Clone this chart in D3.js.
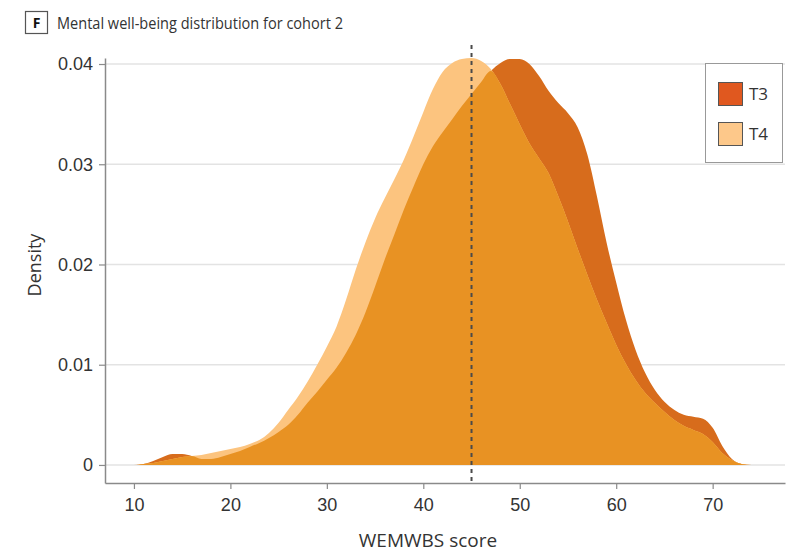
<!DOCTYPE html>
<html>
<head>
<meta charset="utf-8">
<script src="https://cdn.jsdelivr.net/npm/d3@7"></script>
<style>
    body { margin: 0; background: #fff; }
    svg { display: block; font-family: "Open Sans", "Noto Sans", sans-serif; }
</style>
</head>
<body>
<div id="chart"></div>
<script>
// data (density curves, WEMWBS score)
const scores = [8, 9, 10, 11, 12, 13, 14, 15, 16, 17, 18, 19, 20, 21, 22, 23, 24, 25, 26, 27, 28, 29,
    30, 31, 32, 33, 34, 35, 36, 37, 38, 39, 40, 41, 42, 43, 44, 45, 46, 47, 48, 49, 50, 51, 52,
    53, 54, 55, 56, 57, 58, 59, 60, 61, 62, 63, 64, 65, 66, 67, 68, 69, 70, 71, 72, 73, 74, 75, 76];
const t3 = [0, 0, 0, 0.0001, 0.0004, 0.0008, 0.0011, 0.0011, 0.0009, 0.0006, 0.0006, 0.0008, 0.0011,
    0.0014, 0.0018, 0.0022, 0.0027, 0.0033, 0.0040, 0.0050, 0.0062, 0.0073, 0.0085, 0.0097, 0.0112,
    0.0130, 0.0152, 0.0178, 0.0205, 0.0230, 0.0255, 0.0278, 0.0300, 0.0318, 0.0332, 0.0345, 0.0358,
    0.0370, 0.0382, 0.0393, 0.0401, 0.0405, 0.0405, 0.0400, 0.0388, 0.0373, 0.0361, 0.0351, 0.0337,
    0.0310, 0.0268, 0.0222, 0.0182, 0.0145, 0.0115, 0.0092, 0.0075, 0.0063, 0.0055, 0.0050, 0.0048,
    0.0046, 0.0037, 0.0019, 0.0006, 0.0001, 0, 0, 0];
const t4 = [0, 0, 0, 0.0001, 0.0002, 0.0004, 0.0006, 0.0008, 0.0009, 0.0010, 0.0012, 0.0014, 0.0016,
    0.0018, 0.0021, 0.0025, 0.0032, 0.0042, 0.0055, 0.0068, 0.0083, 0.0100, 0.0118, 0.0138, 0.0165,
    0.0195, 0.0222, 0.0246, 0.0266, 0.0285, 0.0305, 0.0328, 0.0352, 0.0375, 0.0392, 0.0401, 0.0405,
    0.0406, 0.0403, 0.0395, 0.0380, 0.0360, 0.0340, 0.0321, 0.0306, 0.0291, 0.0268, 0.0243, 0.0216,
    0.0190, 0.0165, 0.0142, 0.0120, 0.0101, 0.0085, 0.0072, 0.0062, 0.0053, 0.0045, 0.0039, 0.0035,
    0.0031, 0.0023, 0.0012, 0.0005, 0.0001, 0, 0, 0];
const meanLine = 45;
const xTicks = [10, 20, 30, 40, 50, 60, 70];
const yTicks = [0, 0.01, 0.02, 0.03, 0.04];
const legendNames = ["T3", "T4"];

const width = 796, height = 552;
const svg = d3.select("#chart").append("svg")
    .attr("width", width)
    .attr("height", height);

// scales
const x = d3.scaleLinear().domain([7, 77.5]).range([105, 785]);
const y = d3.scaleLinear().domain([-0.0018, 0.0406]).range([483, 58]);

// grid
svg.append("g").selectAll("line")
    .data(yTicks)
    .join("line")
    .attr("x1", 105).attr("x2", 785)
    .attr("y1", d => y(d)).attr("y2", d => y(d))
    .attr("stroke", "#e3e3e3")
    .attr("stroke-width", 1.5);

// curves
const rows = scores.map((s, i) => ({s: s, a: t3[i], b: t4[i]}));
function area(fn) {
    return d3.area()
        .x(d => x(d.s))
        .y0(y(0))
        .y1(d => y(fn(d)))
        .curve(d3.curveMonotoneX);
}
svg.append("path").datum(rows).attr("d", area(d => d.a)).attr("fill", "#d76c1c");
svg.append("path").datum(rows).attr("d", area(d => d.b)).attr("fill", "#fcc47f");
// overlap of both
svg.append("path").datum(rows).attr("d", area(d => Math.min(d.a, d.b))).attr("fill", "#e89223");

// axes
const xAxis = svg.append("g")
    .attr("transform", "translate(0," + 483 + ")")
    .call(d3.axisBottom(x).tickValues(xTicks).tickSize(6).tickPadding(9).tickSizeOuter(0));
const yAxis = svg.append("g")
    .attr("transform", "translate(" + 105 + ",0)")
    .call(d3.axisLeft(y).tickValues(yTicks).tickSize(6).tickPadding(6).tickSizeOuter(0)
        .tickFormat(d => d === 0 ? "0" : d3.format(".2f")(d)));
[xAxis, yAxis].forEach(function (g) {
    g.select(".domain").attr("stroke", "#8a8a8a").attr("stroke-width", 1.5);
    g.selectAll(".tick line").attr("stroke", "#8a8a8a").attr("stroke-width", 1.2);
    g.selectAll(".tick text").attr("fill", "#333").style("font-size", "18px");
});

// dashed reference line
svg.append("line")
    .attr("x1", x(meanLine)).attr("x2", x(meanLine))
    .attr("y1", 45).attr("y2", 483)
    .attr("stroke", "#4a4a4a")
    .attr("stroke-width", 2)
    .attr("stroke-dasharray", "4,4");

// axis titles
svg.append("text")
    .attr("x", 428).attr("y", 547)
    .attr("text-anchor", "middle")
    .attr("fill", "#333")
    .style("font-size", "19px")
    .text("WEMWBS score");
svg.append("text")
    .attr("transform", "translate(41,265) rotate(-90)")
    .attr("text-anchor", "middle")
    .attr("fill", "#333")
    .style("font-size", "18px")
    .text("Density");

// panel title
svg.append("rect")
    .attr("x", 25.5).attr("y", 11.5).attr("width", 22).attr("height", 22)
    .attr("fill", "#fff").attr("stroke", "#555").attr("stroke-width", 1.2);
svg.append("text")
    .attr("x", 36.5).attr("y", 28)
    .attr("text-anchor", "middle")
    .attr("fill", "#111")
    .style("font-size", "14px")
    .style("font-weight", "bold")
    .text("F");
// the original title font is condensed, so squeeze it a little
svg.append("text")
    .attr("x", 57).attr("y", 29)
    .attr("fill", "#333")
    .attr("textLength", 286)
    .attr("lengthAdjust", "spacingAndGlyphs")
    .style("font-size", "17px")
    .text("Mental well-being distribution for cohort 2");

// legend
const legend = svg.append("g");
legend.append("rect")
    .attr("x", 705.5).attr("y", 63.5).attr("width", 77).attr("height", 99)
    .attr("fill", "#fff").attr("stroke", "#999");
const swatch = ["#e0581f", "#fdc88a"];
legend.selectAll(".item")
    .data(legendNames)
    .join("g")
    .attr("class", "item")
    .attr("transform", (d, i) => "translate(718," + (82 + i * 40) + ")")
    .each(function (d, i) {
        const g = d3.select(this);
        g.append("rect")
            .attr("x", 0.5).attr("y", 0.5).attr("width", 24).attr("height", 23)
            .attr("fill", swatch[i]).attr("stroke", "#555");
        g.append("text")
            .attr("x", 31).attr("y", 18)
            .attr("fill", "#333")
            .style("font-size", "17px")
            .text(d);
    });
</script>
</body>
</html>
